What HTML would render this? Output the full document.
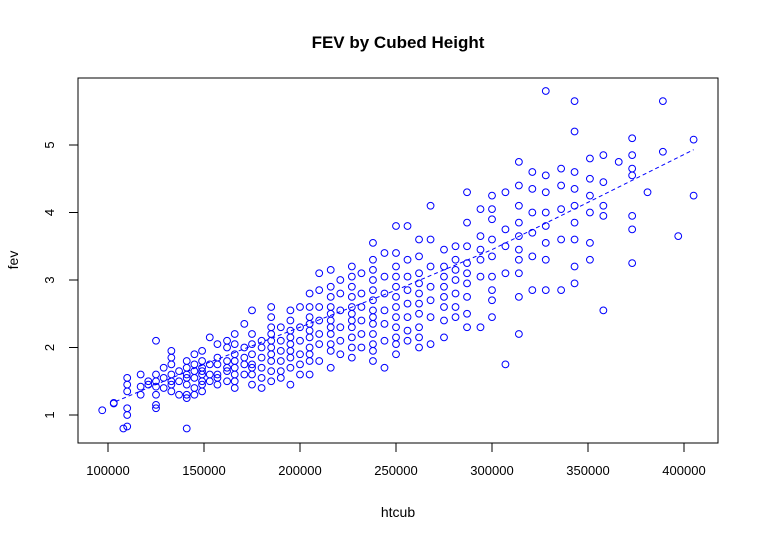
<!DOCTYPE html>
<html><head><meta charset="utf-8"><style>
body{margin:0;background:#fff;font-family:"Liberation Sans",Arial,sans-serif}
</style></head><body>
<svg id="chart" width="759" height="541" xmlns="http://www.w3.org/2000/svg">
<text x="398" y="48" text-anchor="middle" font-size="17" font-weight="bold">FEV by Cubed Height</text>
<text x="398" y="517" text-anchor="middle" font-size="14">htcub</text>
<text x="18" y="260" text-anchor="middle" font-size="14" transform="rotate(-90 18 260)">fev</text>
<rect x="78" y="78" width="640" height="365" fill="none" stroke="#000"/>
<g id="axes"></g><g id="pts"></g><g id="ln"></g>
</svg>
<script>
const xTicks=[100000,150000,200000,250000,300000,350000,400000];
const yTicks=[1,2,3,4,5];
const cols=[97,103,108,110,117,121,125,129,133,137,141,145,149,153,157,162,166,171,175,180,185,190,195,200,205,210,216,221,227,232,238,244,250,256,262,268,275,281,287,294,300,307,314,321,328,336,343,351,358,366,373,381,389,397,405];
const fevs=[[1.07],[1.18,1.17],[0.8],[1.55,1.45,1.1,1.0,0.83,1.35],[1.42,1.3,1.6],[1.45,1.5],[2.1,1.6,1.5,1.42,1.15,1.1,1.3],[1.7,1.55,1.4],[1.95,1.85,1.75,1.6,1.5,1.45,1.35],[1.65,1.5,1.3],[1.8,1.7,1.6,1.55,1.45,1.3,1.25,0.8],[1.9,1.75,1.65,1.55,1.4,1.3],[1.95,1.8,1.7,1.6,1.5,1.45,1.35,1.65],[2.15,1.75,1.6,1.5],[2.05,1.85,1.75,1.6,1.45,1.55],[2.1,2.0,1.8,1.7,1.65,1.5],[2.2,2.05,1.9,1.8,1.7,1.6,1.5,1.4],[2.35,2.0,1.85,1.75,1.6],[2.55,2.2,2.05,1.9,1.75,1.6,1.45,1.7],[2.1,2.0,1.85,1.7,1.55,1.4],[2.6,2.45,2.3,2.2,2.1,2.0,1.9,1.8,1.65,1.5],[2.3,2.1,1.95,1.8,1.65,1.55],[2.55,2.4,2.25,2.15,2.05,1.95,1.85,1.7,1.45],[2.6,2.3,2.1,1.9,1.75,1.6],[2.8,2.6,2.45,2.35,2.25,2.15,2.0,1.9,1.8,1.6],[3.1,2.85,2.6,2.4,2.2,2.05,1.8],[3.15,2.9,2.75,2.6,2.5,2.4,2.3,2.2,2.05,1.95,1.7],[3.0,2.8,2.55,2.3,2.1,1.9],[3.2,3.05,2.9,2.75,2.6,2.5,2.4,2.3,2.15,2.0,1.85],[3.1,2.8,2.6,2.4,2.2,2.0],[3.55,3.3,3.15,3.0,2.85,2.7,2.55,2.45,2.35,2.2,2.05,1.95,1.8],[3.4,3.05,2.8,2.55,2.35,2.1,1.7],[3.8,3.4,3.2,3.05,2.9,2.75,2.6,2.45,2.3,2.15,2.05,1.9],[3.8,3.3,3.05,2.85,2.65,2.45,2.25,2.1],[3.6,3.35,3.1,2.95,2.8,2.65,2.5,2.3,2.15,2.0],[4.1,3.6,3.2,2.9,2.7,2.45,2.05],[3.45,3.2,3.05,2.9,2.75,2.6,2.4,2.15],[3.5,3.3,3.15,3.0,2.8,2.6,2.45],[4.3,3.85,3.5,3.25,3.1,2.95,2.75,2.5,2.3],[4.05,3.65,3.45,3.3,3.05,2.3],[4.25,4.05,3.9,3.6,3.35,3.05,2.85,2.7,2.45],[4.3,3.75,3.5,3.1,1.75],[4.75,4.4,4.1,3.85,3.65,3.45,3.3,3.1,2.75,2.2],[4.6,4.35,4.0,3.7,3.35,2.85],[5.8,4.55,4.3,4.0,3.8,3.55,3.3,2.85],[4.65,4.4,4.05,3.6,2.85],[5.65,5.2,4.6,4.35,4.1,3.85,3.6,3.2,2.95],[4.8,4.5,4.25,4.0,3.55,3.3],[4.85,4.45,4.1,3.95,2.55],[4.75],[5.1,4.85,4.65,4.55,3.95,3.75,3.25],[4.3],[5.65,4.9],[3.65],[5.08,4.25]];
const smX=[104000,150000,200000,250000,300000,350000,405000];
const smY=[1.2,1.75,2.3,2.85,3.45,4.15,4.93];
const NS="http://www.w3.org/2000/svg";
const sx=v=>108+(v-100000)*576/300000;
const sy=v=>415-(v-1)*67.5;
const ax=document.getElementById('axes');
function mk(t,a,p){const e=document.createElementNS(NS,t);for(const k in a)e.setAttribute(k,a[k]);p.appendChild(e);return e;}
mk('line',{x1:sx(xTicks[0]),x2:sx(xTicks[xTicks.length-1]),y1:443,y2:443,stroke:'#000'},ax);
xTicks.forEach(v=>{const x=sx(v);
const l=mk('line',{x1:x,x2:x,y1:443,y2:452,stroke:'#000'},ax);


const t=mk('text',{x:x,y:475,'text-anchor':'middle','font-size':'13'},ax);t.textContent=v;

});
yTicks.forEach(v=>{const y=sy(v);
const l=mk('line',{x1:69,x2:78,y1:y,y2:y,stroke:'#000'},ax);


const t=mk('text',{x:54,y:y,'text-anchor':'middle','font-size':'13',transform:`rotate(-90 54 ${y})`},ax);t.textContent=v;

});
const pg=document.getElementById('pts');
cols.forEach((c,i)=>fevs[i].forEach(f=>{
const e=mk('circle',{cx:sx(c*1000),cy:sy(f),r:3.4,fill:'none',stroke:'#00f','stroke-width':1},pg);

}));
const p=mk('polyline',{points:smX.map((x,i)=>sx(x)+','+sy(smY[i])).join(' '),fill:'none',stroke:'#00f','stroke-dasharray':'4 3','stroke-width':1},document.getElementById('ln'));


</script>
</body></html>
